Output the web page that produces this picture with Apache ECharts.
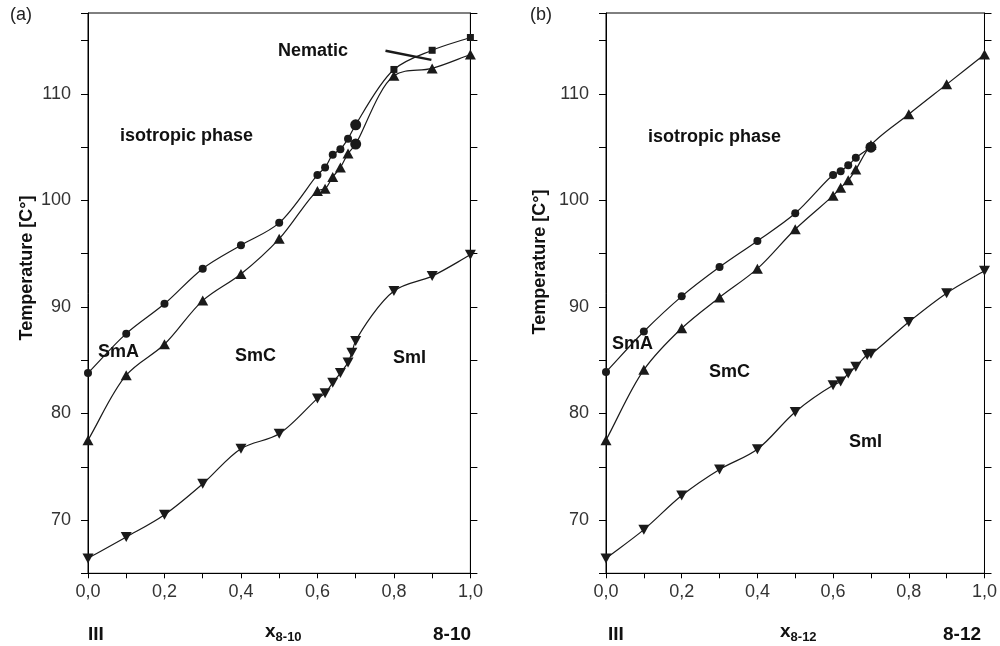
<!DOCTYPE html>
<html><head><meta charset="utf-8">
<script src="https://cdn.jsdelivr.net/npm/echarts@6/dist/echarts.min.js"></script>
<style>html,body{margin:0;padding:0;background:#fff}#c{width:1000px;height:646px}</style>
</head><body><div id="c"></div>
<script>
// ---- data ----
// Panel (a): mixture III / 8-10
const xA_SmA = [0, 0.1, 0.2, 0.3, 0.4, 0.5, 0.6, 0.62, 0.64, 0.66, 0.68, 0.7, 0.8, 0.9, 1.0];
const tA_SmA = [83.8, 87.5, 90.3, 93.6, 95.8, 97.9, 102.4, 103.1, 104.3, 104.8, 105.8, 107.1, 112.3, 114.1, 115.3];
const xA_SmC = [0, 0.1, 0.2, 0.3, 0.4, 0.5, 0.6, 0.62, 0.64, 0.66, 0.68, 0.7, 0.8, 0.9, 1.0];
const tA_SmC = [77.5, 83.6, 86.5, 90.6, 93.1, 96.4, 100.9, 101.1, 102.2, 103.1, 104.4, 105.3, 111.7, 112.4, 113.7];
const xA_SmI = [0, 0.1, 0.2, 0.3, 0.4, 0.5, 0.6, 0.62, 0.64, 0.66, 0.68, 0.69, 0.7, 0.8, 0.9, 1.0];
const tA_SmI = [66.4, 68.4, 70.5, 73.4, 76.7, 78.1, 81.4, 81.9, 82.9, 83.8, 84.8, 85.7, 86.8, 91.5, 92.9, 94.9];
const nematicArrow = [[0.778, 114.05], [0.898, 113.2]];
// Panel (b): mixture III / 8-12
const xB_SmA = [0, 0.1, 0.2, 0.3, 0.4, 0.5, 0.6, 0.62, 0.64, 0.66, 0.7];
const tB_SmA = [83.9, 87.7, 91.0, 93.75, 96.2, 98.8, 102.4, 102.75, 103.3, 104.0, 105.0];
const xB_SmC = [0, 0.1, 0.2, 0.3, 0.4, 0.5, 0.6, 0.62, 0.64, 0.66, 0.7, 0.8, 0.9, 1.0];
const tB_SmC = [77.5, 84.1, 88.0, 90.9, 93.6, 97.3, 100.45, 101.2, 101.9, 102.9, 105.2, 108.1, 110.9, 113.7];
const xB_SmI = [0, 0.1, 0.2, 0.3, 0.4, 0.5, 0.6, 0.62, 0.64, 0.66, 0.69, 0.7, 0.8, 0.9, 1.0];
const tB_SmI = [66.4, 69.1, 72.3, 74.75, 76.65, 80.15, 82.65, 83.0, 83.75, 84.4, 85.5, 85.6, 88.6, 91.3, 93.4];
// axis ticks
const yMin = 65, yMax = 117.6, yStep = 5, xStep = 0.1;

// ---- chart ----
const INK = '#1a1a1a';
const chart = echarts.init(document.getElementById('c'));
const FONT = '"Liberation Sans", Arial, sans-serif';

function pts(xs, ts, symFn) {
  return xs.map((x, i) => {
    const s = symFn(x, i);
    return { value: [x, ts[i]], symbol: s.symbol, symbolSize: s.size, symbolRotate: s.rotate || 0 };
  });
}
const circ = { symbol: 'circle', size: 8 };
const bigC = { symbol: 'circle', size: 11 };
const tri = { symbol: 'triangle', size: [11, 10] };
const sq = { symbol: 'rect', size: 7 };
const dtri = { symbol: 'triangle', size: [11, 10], rotate: 180 };

// markers: scatter series through the axes
function marks(gi, data) {
  return {
    type: 'scatter', xAxisIndex: gi, yAxisIndex: gi * 2, data: data,
    itemStyle: { color: INK, opacity: 1 }, animation: false, z: 4, silent: true
  };
}
// curve through the same data points: centripetal Catmull-Rom, mapped by api.coord
function curve(gi, xs, ts) {
  return {
    type: 'custom', xAxisIndex: gi, yAxisIndex: gi * 2, silent: true, animation: false, z: 3,
    data: xs.map((x, i) => [x, ts[i]]),
    renderItem: function (params, api) {
      if (params.dataIndex !== 0) return null;
      const P = xs.map((x, i) => api.coord([x, ts[i]]));
      const n = P.length;
      const get = (i) => {
        if (i < 0) return [2 * P[0][0] - P[1][0], 2 * P[0][1] - P[1][1]];
        if (i >= n) return [2 * P[n - 1][0] - P[n - 2][0], 2 * P[n - 1][1] - P[n - 2][1]];
        return P[i];
      };
      const dist = (a, b) => Math.max(1e-6, Math.pow(Math.hypot(b[0] - a[0], b[1] - a[1]), 0.5));
      let d = 'M' + P[0][0] + ' ' + P[0][1];
      for (let i = 0; i < n - 1; i++) {
        const p0 = get(i - 1), p1 = get(i), p2 = get(i + 1), p3 = get(i + 2);
        const d1 = dist(p0, p1), d2 = dist(p1, p2), d3 = dist(p2, p3);
        const b1 = [0, 1].map(k => (d1 * d1 * p2[k] - d2 * d2 * p0[k] + (2 * d1 * d1 + 3 * d1 * d2 + d2 * d2) * p1[k]) / (3 * d1 * (d1 + d2)));
        const b2 = [0, 1].map(k => (d3 * d3 * p1[k] - d2 * d2 * p3[k] + (2 * d3 * d3 + 3 * d3 * d2 + d2 * d2) * p2[k]) / (3 * d3 * (d3 + d2)));
        d += ' C' + b1[0] + ' ' + b1[1] + ' ' + b2[0] + ' ' + b2[1] + ' ' + p2[0] + ' ' + p2[1];
      }
      return {
        type: 'path', shape: { pathData: d },
        style: { fill: null, stroke: INK, lineWidth: 1.2 }
      };
    }
  };
}

const xAxisBase = (gi) => ({
  type: 'value', gridIndex: gi, min: 0, max: 1, interval: xStep,
  axisLine: { lineStyle: { color: '#000', width: 1 } },
  axisTick: { inside: false, length: 5, lineStyle: { color: '#000' } },
  splitLine: { show: false },
  axisLabel: {
    margin: 10, color: '#333', fontSize: 18, fontFamily: FONT,
    formatter: v => (Math.round(v * 10) % 2 === 0) ? v.toFixed(1).replace('.', ',') : ''
  }
});
const yAxisBase = (gi, pos) => ({
  type: 'value', gridIndex: gi, position: pos, min: yMin, max: yMax, interval: yStep,
  axisLine: { show: true, lineStyle: { color: '#000', width: 1 } },
  axisTick: { show: true, inside: false, length: 7, lineStyle: { color: '#000' } },
  splitLine: { show: false },
  axisLabel: {
    show: pos === 'left', margin: 17, color: '#333', fontSize: 18, fontFamily: FONT,
    formatter: v => (v % 10 === 0) ? String(v) : ''
  }
});

const bold = (txt, x, y, extra) => ({
  type: 'text', left: x, top: y, silent: true,
  style: Object.assign({ text: txt, font: 'bold 18px ' + FONT, fill: '#111' }, extra || {})
});
const plain = (txt, x, y) => ({
  type: 'text', left: x, top: y, silent: true,
  style: { text: txt, font: '18px ' + FONT, fill: '#222' }
});
const sub = (main, s, x, y) => ({
  type: 'text', left: x, top: y, silent: true,
  style: {
    text: '{m|' + main + '}{s|' + s + '}', fill: '#111',
    rich: {
      m: { font: 'bold 19px ' + FONT, fill: '#111', verticalAlign: 'top', lineHeight: 20 },
      s: { font: 'bold 13px ' + FONT, fill: '#111', padding: [9, 0, 0, 0], verticalAlign: 'top', lineHeight: 20 }
    }
  }
});
const vert = (txt, cx, cy) => ({
  type: 'text', x: cx, y: cy, rotation: Math.PI / 2, silent: true,
  style: { text: txt, font: 'bold 18px ' + FONT, fill: '#111', align: 'center', verticalAlign: 'middle' }
});

const option = {
  backgroundColor: '#fff',
  animation: false,
  grid: [
    { left: 88, top: 13, width: 382.4, height: 560.3, show: true, borderColor: '#000', borderWidth: 1, backgroundColor: 'transparent' },
    { left: 606, top: 13, width: 382.7, height: 560.3, show: true, borderColor: '#000', borderWidth: 1, backgroundColor: 'transparent' }
  ],
  xAxis: [xAxisBase(0), xAxisBase(1)],
  yAxis: [yAxisBase(0, 'left'), yAxisBase(0, 'right'), yAxisBase(1, 'left'), yAxisBase(1, 'right')],
  series: [
    curve(0, xA_SmA, tA_SmA),
    curve(0, xA_SmC, tA_SmC),
    curve(0, xA_SmI, tA_SmI),
    marks(0, pts(xA_SmA, tA_SmA, (x) => x > 0.7 ? sq : (x === 0.7 ? bigC : circ))),
    marks(0, pts(xA_SmC, tA_SmC, (x) => x === 0.7 ? bigC : tri)),
    marks(0, pts(xA_SmI, tA_SmI, () => dtri)),
    {
      type: 'line', xAxisIndex: 0, yAxisIndex: 0, data: [], animation: false,
      markLine: {
        silent: true, symbol: ['none', 'none'], label: { show: false },
        lineStyle: { color: INK, width: 2.5, type: 'solid' },
        data: [[{ coord: nematicArrow[0] }, { coord: nematicArrow[1] }]]
      }
    },
    curve(1, xB_SmA, tB_SmA),
    curve(1, xB_SmC, tB_SmC),
    curve(1, xB_SmI, tB_SmI),
    marks(1, pts(xB_SmA, tB_SmA, (x) => x === 0.7 ? bigC : circ)),
    marks(1, pts(xB_SmC, tB_SmC, () => tri)),
    marks(1, pts(xB_SmI, tB_SmI, () => dtri))
  ],
  graphic: [
    plain('(a)', 10, 6),
    plain('(b)', 530, 6),
    vert('Temperature [C\u00b0]', 27, 268),
    vert('Temperature [C\u00b0]', 540, 262),
    bold('Nematic', 278, 42),
    bold('isotropic phase', 120, 127),
    bold('SmA', 98, 343),
    bold('SmC', 235, 347),
    bold('SmI', 393, 349),
    bold('isotropic phase', 648, 128),
    bold('SmA', 612, 335),
    bold('SmC', 709, 363),
    bold('SmI', 849, 433),
    bold('III', 88, 625, { font: 'bold 19px ' + FONT }),
    sub('x', '8-10', 265, 622),
    bold('8-10', 433, 625, { font: 'bold 19px ' + FONT }),
    bold('III', 608, 625, { font: 'bold 19px ' + FONT }),
    sub('x', '8-12', 780, 622),
    bold('8-12', 943, 625, { font: 'bold 19px ' + FONT })
  ]
};
chart.setOption(option);
</script></body></html>
